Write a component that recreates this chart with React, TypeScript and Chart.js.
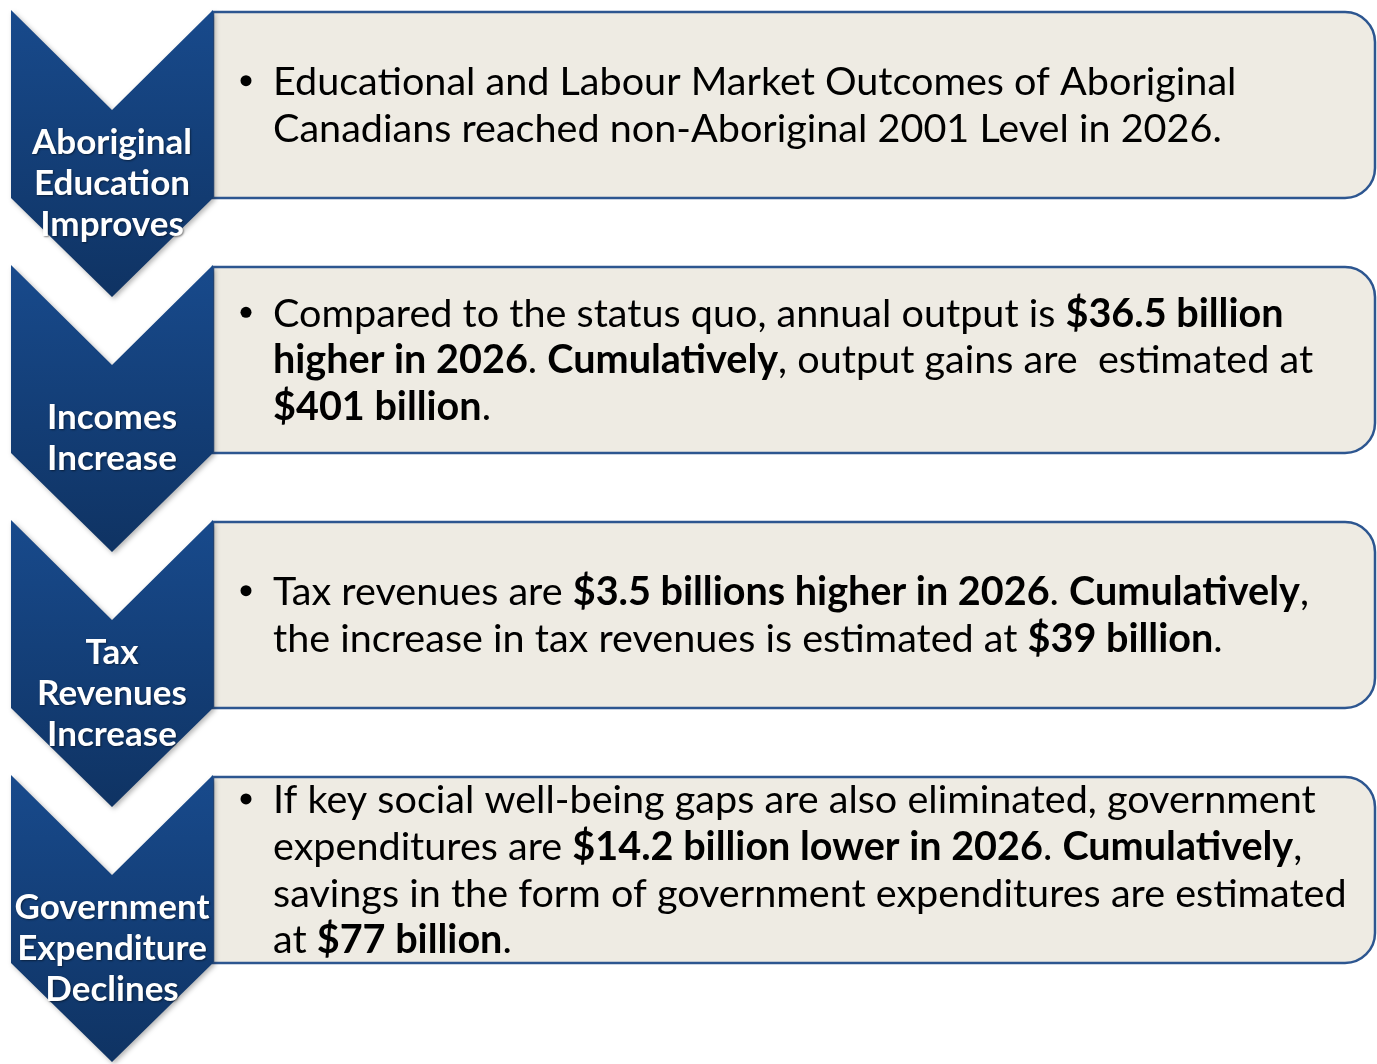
import React, { useEffect, useRef } from "react";
import { Chart, registerables } from "chart.js";

Chart.register(...registerables);

// ---- data ----
const stepLabels: string[][] = [
  ["Aboriginal", "Education", "Improves"],
  ["Incomes", "Increase"],
  ["Tax", "Revenues", "Increase"],
  ["Government", "Expenditure", "Declines"],
];

// "**" toggles bold
const stepTexts: string[][] = [
  [
    "Educational and Labour Market Outcomes of Aboriginal",
    "Canadians reached non-Aboriginal 2001 Level in 2026.",
  ],
  [
    "Compared to the status quo, annual output is **$36.5 billion**",
    "**higher in 2026**. **Cumulatively**, output gains are  estimated at",
    "**$401 billion**.",
  ],
  [
    "Tax revenues are **$3.5 billions higher in 2026**. **Cumulatively**,",
    "the increase in tax revenues is estimated at **$39 billion**.",
  ],
  [
    "If key social well-being gaps are also eliminated, government",
    "expenditures are **$14.2 billion lower in 2026**. **Cumulatively**,",
    "savings in the form of government expenditures are estimated",
    "at **$77 billion**.",
  ],
];

// ---- layout (diagram units == pixels) ----
const W = 1377;
const H = 1064;
const TOP0 = 10;
const STEP = 255;
const CH_L = 11;
const CH_R = 213;
const CH_M = 112;
const NOTCH = 100;
const SIDE = 188;
const TIP = 287;
const BOX_R = 1375;
const RADIUS = 30;
const FONT = "Lato, 'Open Sans', sans-serif";

function parse(line: string) {
  const parts = line.split("**");
  return parts.map((t, i) => ({ t, b: i % 2 === 1 })).filter((s) => s.t.length);
}

function lineWidth(ctx: CanvasRenderingContext2D, line: string, size: number) {
  let w = 0;
  for (const s of parse(line)) {
    ctx.font = `${s.b ? "bold " : ""}${size}px ${FONT}`;
    w += ctx.measureText(s.t).width;
  }
  return w;
}

const diagramPlugin = {
  id: "diagram",
  afterDraw(chart: any) {
    const ctx: CanvasRenderingContext2D = chart.ctx;
    const xs = chart.scales.x;
    const ys = chart.scales.y;
    const px = (v: number) => xs.getPixelForValue(v);
    const py = (v: number) => ys.getPixelForValue(v);

    // font sizing
    const bodySize = (100 * 1074) / lineWidth(ctx, stepTexts[3][2], 100);
    ctx.font = `bold 100px ${FONT}`;
    const labelSize = (100 * 195) / ctx.measureText("Government").width;

    ctx.save();
    stepLabels.forEach((labels, i) => {
      const T = TOP0 + i * STEP;

      // box
      const bl = px(CH_R), br = px(BOX_R), bt = py(T + 2), bb = py(T + SIDE);
      const r = RADIUS;
      ctx.beginPath();
      ctx.moveTo(bl, bt);
      ctx.lineTo(br - r, bt);
      ctx.arcTo(br, bt, br, bt + r, r);
      ctx.lineTo(br, bb - r);
      ctx.arcTo(br, bb, br - r, bb, r);
      ctx.lineTo(bl, bb);
      ctx.closePath();
      ctx.fillStyle = "#EEEBE3";
      ctx.fill();
      ctx.lineWidth = 2.5;
      ctx.strokeStyle = "#2D5690";
      ctx.stroke();

      // bullet text
      const lines = stepTexts[i];
      const cy = (T + 2 + T + SIDE) / 2;
      const lh = 46.7;
      ctx.fillStyle = "#000";
      ctx.textBaseline = "alphabetic";
      ctx.textAlign = "left";
      lines.forEach((ln, j) => {
        const yc = cy + (j - (lines.length - 1) / 2) * lh - 1;
        if (j === 0) {
          ctx.beginPath();
          ctx.arc(px(246), py(yc), 5.5, 0, Math.PI * 2);
          ctx.fill();
        }
        let x = px(273);
        for (const s of parse(ln)) {
          ctx.font = `${s.b ? "bold " : ""}${bodySize}px ${FONT}`;
          ctx.fillText(s.t, x, py(yc) + bodySize * 0.36);
          x += ctx.measureText(s.t).width;
        }
      });

      // chevron
      ctx.save();
      ctx.shadowColor = "rgba(0,0,0,0.3)";
      ctx.shadowBlur = 5;
      ctx.shadowOffsetX = 2;
      ctx.shadowOffsetY = 2;
      ctx.beginPath();
      ctx.moveTo(px(CH_L), py(T));
      ctx.lineTo(px(CH_M), py(T + NOTCH));
      ctx.lineTo(px(CH_R), py(T));
      ctx.lineTo(px(CH_R), py(T + SIDE));
      ctx.lineTo(px(CH_M), py(T + TIP));
      ctx.lineTo(px(CH_L), py(T + SIDE));
      ctx.closePath();
      const g = ctx.createLinearGradient(0, py(T), 0, py(T + TIP));
      g.addColorStop(0, "#184A8C");
      g.addColorStop(1, "#0F3363");
      ctx.fillStyle = g;
      ctx.fill();
      ctx.restore();

      // chevron label
      ctx.save();
      ctx.fillStyle = "#FFFFFF";
      ctx.textAlign = "center";
      ctx.font = `bold ${labelSize}px ${FONT}`;
      ctx.shadowColor = "rgba(0,0,0,0.45)";
      ctx.shadowBlur = 2;
      ctx.shadowOffsetX = 1;
      ctx.shadowOffsetY = 1;
      const lc = T + 172;
      labels.forEach((lab, j) => {
        const yc = lc + (j - (labels.length - 1) / 2) * 41;
        ctx.fillText(lab, px(CH_M), py(yc) + labelSize * 0.36);
      });
      ctx.restore();
    });
    ctx.restore();
  },
};

export default function App() {
  const ref = useRef<HTMLCanvasElement | null>(null);
  useEffect(() => {
    document.body.style.margin = "0";
    if (!ref.current) return;
    const chart = new Chart(ref.current, {
      type: "scatter",
      data: {
        datasets: [
          {
            data: stepLabels.map((_, i) => ({ x: CH_M, y: TOP0 + i * STEP })),
            pointRadius: 0,
            showLine: false,
          },
        ],
      },
      options: {
        animation: false,
        responsive: false,
        devicePixelRatio: 1,
        events: [],
        layout: { padding: 0 },
        plugins: { legend: { display: false }, tooltip: { enabled: false } },
        scales: {
          x: { type: "linear", min: 0, max: W, display: false },
          y: { type: "linear", min: 0, max: H, reverse: true, display: false },
        },
      },
      plugins: [diagramPlugin],
    });
    return () => chart.destroy();
  }, []);
  return (
    <canvas
      ref={ref}
      width={W}
      height={H}
      style={{ display: "block", width: W, height: H, background: "#fff" }}
    />
  );
}
